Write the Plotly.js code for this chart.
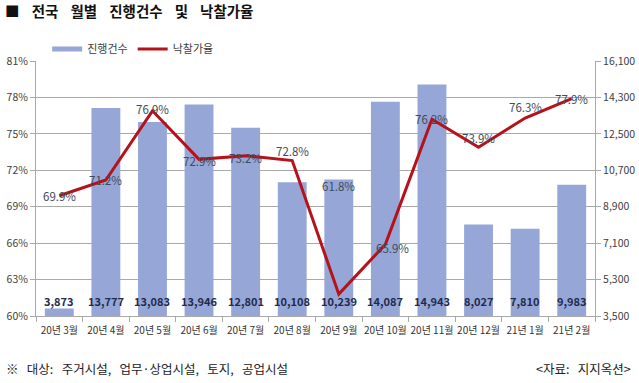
<!DOCTYPE html>
<html><head><meta charset="utf-8">
<script src="https://cdn.plot.ly/plotly-3.0.1.min.js"></script>
<style>html,body{margin:0;padding:0;background:#fff}#chart{width:639px;height:383px}</style>
</head><body><div id="chart"></div>
<script>
const months = ['20년 3월','20년 4월','20년 5월','20년 6월','20년 7월','20년 8월','20년 9월','20년 10월','20년 11월','20년 12월','21년 1월','21년 2월'];
const counts = [3873,13777,13083,13946,12801,10108,10239,14087,14943,8027,7810,9983];
const rates = [69.9,71.2,76.9,72.9,73.2,72.8,61.8,65.9,76.2,73.9,76.3,77.9];
const countName = '진행건수';
const rateName = '낙찰가율';
const titleText = '■ 전국 월별 진행건수 및 낙찰가율';
const noteText = '※ 대상: 주거시설, 업무·상업시설, 토지, 공업시설';
const sourceText = '<자료: 지지옥션>';

const countMin = 3500, countMax = 16100, countStep = 1800;
const rateMin = 60, rateMax = 81, rateStep = 3;

// label offsets (style only)
const rateLabelDy = [0,0,2,-2,-2,10,108,-4,0,9,11,0];
const rateLabelDx = [0,0,0,0,0,0,0,7,0,0,0,0];

const FONT = '"Noto Sans CJK KR", "Noto Sans", sans-serif';
const gridC = '#a9a9a9';
const barC = '#96a7d7';
const lineC = '#b5121b';
const wide = s => s.split(' ').join('\u2002\u2006');

const traces = [
  {type:'bar', x:months, y:counts, yaxis:'y', marker:{color:barC}, showlegend:false, hoverinfo:'skip'},
  {type:'scatter', mode:'lines', x:[null], y:[null], yaxis:'y', name:countName, line:{color:barC, width:5}, showlegend:true},
  {type:'scatter', mode:'lines', x:months, y:rates, yaxis:'y2', name:rateName, line:{color:lineC, width:3}, showlegend:true},
];

const annotations = months.map((m,i)=>({
  x:m, y:rates[i], xref:'x', yref:'y2', text:rates[i].toFixed(1)+'%', showarrow:false,
  xshift:rateLabelDx[i], yshift:rateLabelDy[i],
  font:{family:FONT, size:11.5, color:'#414b5c'}
}));
months.forEach((m,i)=>annotations.push({
  x:m, y:countMin, xref:'x', yref:'y', yanchor:'bottom', yshift:5, showarrow:false,
  text:'<b>'+counts[i].toLocaleString('en-US')+'</b>',
  font:{family:FONT, size:11, color:'#1f2b4d'}
}));
annotations.push({xref:'paper', yref:'paper', x:-0.057, y:-0.205, xanchor:'left', yanchor:'middle',
  text:wide(noteText), showarrow:false, font:{family:FONT, size:12.5, color:'#222'}});
annotations.push({xref:'paper', yref:'paper', x:1.068, y:-0.205, xanchor:'right', yanchor:'middle',
  text:wide(sourceText.replace('<','&lt;').replace('>','&gt;')), showarrow:false, font:{family:FONT, size:12.5, color:'#222'}});

const layout = {
  width:639, height:383,
  margin:{l:36, r:44, t:61, b:67},
  paper_bgcolor:'#fff', plot_bgcolor:'#fff',
  font:{family:FONT, size:10.5, color:'#404040'},
  title:{text:'<b>'+titleText.split(' ').join('\u2002\u2004')+'</b>', x:0.008, xanchor:'left', xref:'container', y:0.968, yref:'container', yanchor:'middle',
    font:{family:FONT, size:14.5, color:'#111'}},
  bargap:0.38,
  showlegend:true,
  legend:{orientation:'h', x:0.02, y:1.047, xanchor:'left', yanchor:'middle', font:{family:FONT, size:11, color:'#404040'},
    traceorder:'normal', itemwidth:30, bgcolor:'rgba(0,0,0,0)'},
  xaxis:{type:'category', tickson:'boundaries', ticks:'outside', ticklen:5, tickcolor:gridC, tickangle:0, ticklabelstandoff:5,
    showline:true, linecolor:gridC, showgrid:false, tickfont:{family:FONT, size:10, color:'#333'}},
  yaxis:{side:'right', range:[countMin,countMax], tick0:countMin, dtick:countStep, tickformat:',d',
    showgrid:true, gridcolor:gridC, gridwidth:1, showline:true, linecolor:gridC, ticks:'outside', ticklen:5, tickcolor:gridC,
    zeroline:false, tickfont:{family:FONT, size:10.5, color:'#404040'}},
  yaxis2:{side:'left', overlaying:'y', range:[rateMin,rateMax], tick0:rateMin, dtick:rateStep, ticksuffix:'%',
    showgrid:false, showline:true, linecolor:gridC, ticks:'outside', ticklen:5, tickcolor:gridC, zeroline:false,
    tickfont:{family:FONT, size:10.5, color:'#404040'}},
  annotations:annotations
};
Plotly.newPlot('chart', traces, layout, {staticPlot:true, displayModeBar:false});
</script></body></html>
